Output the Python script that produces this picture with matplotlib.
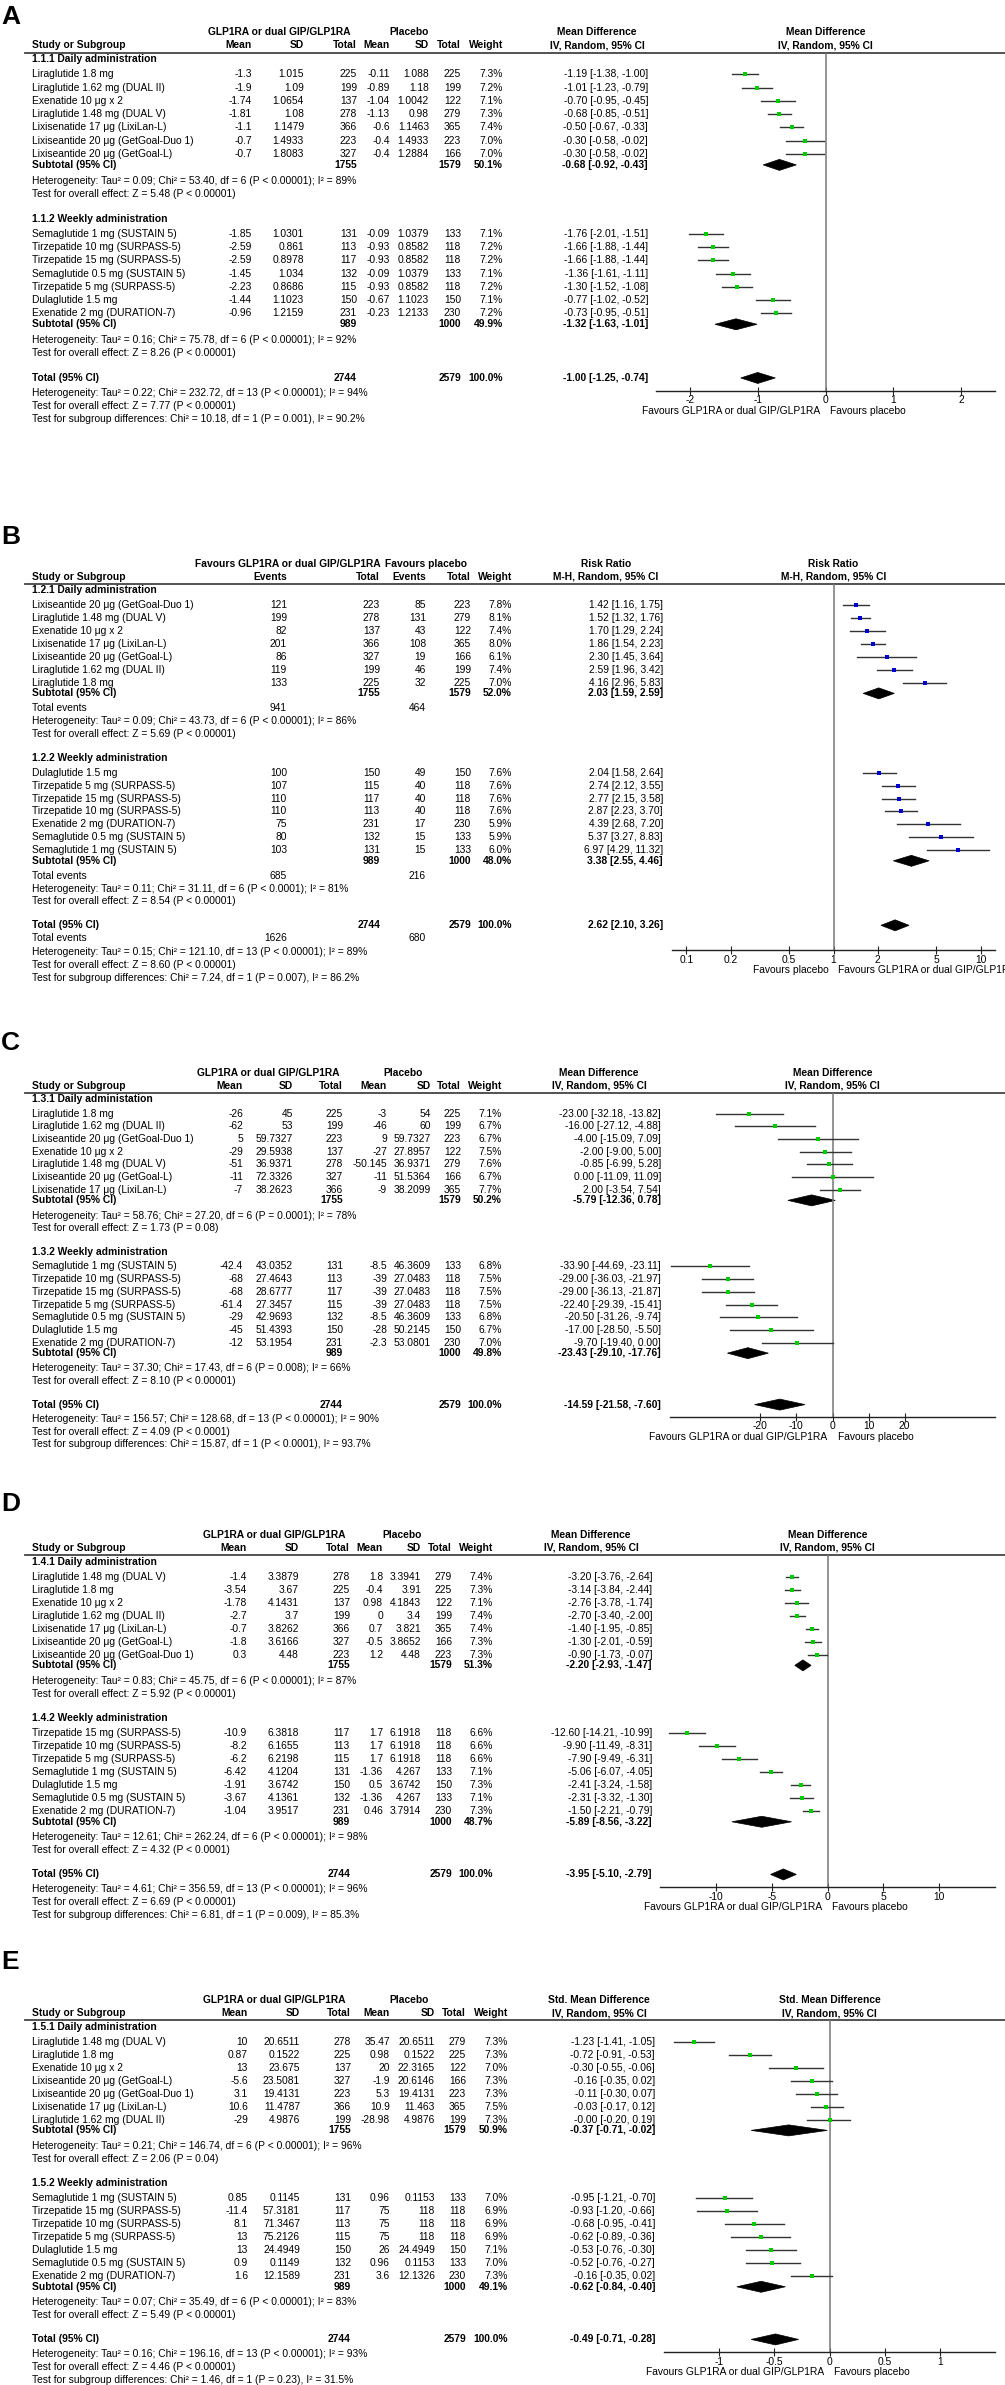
import numpy as np
import matplotlib
matplotlib.use("Agg")
import matplotlib.pyplot as plt
from matplotlib.patches import Polygon

plt.rcParams['font.family'] = ['Liberation Sans', 'DejaVu Sans']
plt.rcParams['axes.unicode_minus'] = False

W, H = 1005, 2385
FS = 7.4
GREEN = '#00cc00'
BLUE = '#0000cc'
LINE = '#333333'

# ---------------- A : mean difference ----------------
A_d_study = ["Liraglutide 1.8 mg", "Liraglutide 1.62 mg (DUAL II)", "Exenatide 10 μg x 2",
             "Liraglutide 1.48 mg (DUAL V)", "Lixisenatide 17 μg (LixiLan-L)",
             "Lixiseantide 20 μg (GetGoal-Duo 1)", "Lixiseantide 20 μg (GetGoal-L)"]
A_d_m1 = [-1.3, -1.9, -1.74, -1.81, -1.1, -0.7, -0.7]
A_d_sd1 = [1.015, 1.09, 1.0654, 1.08, 1.1479, 1.4933, 1.8083]
A_d_n1 = [225, 199, 137, 278, 366, 223, 327]
A_d_m2 = [-0.11, -0.89, -1.04, -1.13, -0.6, -0.4, -0.4]
A_d_sd2 = [1.088, 1.18, 1.0042, 0.98, 1.1463, 1.4933, 1.2884]
A_d_n2 = [225, 199, 122, 279, 365, 223, 166]
A_d_w = [7.3, 7.2, 7.1, 7.3, 7.4, 7.0, 7.0]
A_d_est = [-1.19, -1.01, -0.70, -0.68, -0.50, -0.30, -0.30]
A_d_lo = [-1.38, -1.23, -0.95, -0.85, -0.67, -0.58, -0.58]
A_d_hi = [-1.00, -0.79, -0.45, -0.51, -0.33, -0.02, -0.02]

A_w_study = ["Semaglutide 1 mg (SUSTAIN 5)", "Tirzepatide 10 mg (SURPASS-5)", "Tirzepatide 15 mg (SURPASS-5)",
             "Semaglutide 0.5 mg (SUSTAIN 5)", "Tirzepatide 5 mg (SURPASS-5)", "Dulaglutide 1.5 mg",
             "Exenatide 2 mg (DURATION-7)"]
A_w_m1 = [-1.85, -2.59, -2.59, -1.45, -2.23, -1.44, -0.96]
A_w_sd1 = [1.0301, 0.861, 0.8978, 1.034, 0.8686, 1.1023, 1.2159]
A_w_n1 = [131, 113, 117, 132, 115, 150, 231]
A_w_m2 = [-0.09, -0.93, -0.93, -0.09, -0.93, -0.67, -0.23]
A_w_sd2 = [1.0379, 0.8582, 0.8582, 1.0379, 0.8582, 1.1023, 1.2133]
A_w_n2 = [133, 118, 118, 133, 118, 150, 230]
A_w_w = [7.1, 7.2, 7.2, 7.1, 7.2, 7.1, 7.2]
A_w_est = [-1.76, -1.66, -1.66, -1.36, -1.30, -0.77, -0.73]
A_w_lo = [-2.01, -1.88, -1.88, -1.61, -1.52, -1.02, -0.95]
A_w_hi = [-1.51, -1.44, -1.44, -1.11, -1.08, -0.52, -0.51]

A_sub = [[1755, 1579, 50.1, -0.68, -0.92, -0.43], [989, 1000, 49.9, -1.32, -1.63, -1.01]]
A_tot = [2744, 2579, 100.0, -1.00, -1.25, -0.74]
A_het = ["Heterogeneity: Tau² = 0.09; Chi² = 53.40, df = 6 (P < 0.00001); I² = 89%",
         "Heterogeneity: Tau² = 0.16; Chi² = 75.78, df = 6 (P < 0.00001); I² = 92%",
         "Heterogeneity: Tau² = 0.22; Chi² = 232.72, df = 13 (P < 0.00001); I² = 94%"]
A_z = ["Test for overall effect: Z = 5.48 (P < 0.00001)",
       "Test for overall effect: Z = 8.26 (P < 0.00001)",
       "Test for overall effect: Z = 7.77 (P < 0.00001)"]
A_sg = "Test for subgroup differences: Chi² = 10.18, df = 1 (P = 0.001), I² = 90.2%"

# ---------------- B : risk ratio ----------------
B_d_study = ["Lixiseantide 20 μg (GetGoal-Duo 1)", "Liraglutide 1.48 mg (DUAL V)", "Exenatide 10 μg x 2",
             "Lixisenatide 17 μg (LixiLan-L)", "Lixiseantide 20 μg (GetGoal-L)",
             "Liraglutide 1.62 mg (DUAL II)", "Liraglutide 1.8 mg"]
B_d_ev1 = [121, 199, 82, 201, 86, 119, 133]
B_d_n1 = [223, 278, 137, 366, 327, 199, 225]
B_d_ev2 = [85, 131, 43, 108, 19, 46, 32]
B_d_n2 = [223, 279, 122, 365, 166, 199, 225]
B_d_w = [7.8, 8.1, 7.4, 8.0, 6.1, 7.4, 7.0]
B_d_est = [1.42, 1.52, 1.70, 1.86, 2.30, 2.59, 4.16]
B_d_lo = [1.16, 1.32, 1.29, 1.54, 1.45, 1.96, 2.96]
B_d_hi = [1.75, 1.76, 2.24, 2.23, 3.64, 3.42, 5.83]

B_w_study = ["Dulaglutide 1.5 mg", "Tirzepatide 5 mg (SURPASS-5)", "Tirzepatide 15 mg (SURPASS-5)",
             "Tirzepatide 10 mg (SURPASS-5)", "Exenatide 2 mg (DURATION-7)",
             "Semaglutide 0.5 mg (SUSTAIN 5)", "Semaglutide 1 mg (SUSTAIN 5)"]
B_w_ev1 = [100, 107, 110, 110, 75, 80, 103]
B_w_n1 = [150, 115, 117, 113, 231, 132, 131]
B_w_ev2 = [49, 40, 40, 40, 17, 15, 15]
B_w_n2 = [150, 118, 118, 118, 230, 133, 133]
B_w_w = [7.6, 7.6, 7.6, 7.6, 5.9, 5.9, 6.0]
B_w_est = [2.04, 2.74, 2.77, 2.87, 4.39, 5.37, 6.97]
B_w_lo = [1.58, 2.12, 2.15, 2.23, 2.68, 3.27, 4.29]
B_w_hi = [2.64, 3.55, 3.58, 3.70, 7.20, 8.83, 11.32]

B_sub = [[1755, 1579, 52.0, 2.03, 1.59, 2.59], [989, 1000, 48.0, 3.38, 2.55, 4.46]]
B_tot = [2744, 2579, 100.0, 2.62, 2.10, 3.26]
B_events = [[941, 464], [685, 216], [1626, 680]]
B_het = ["Heterogeneity: Tau² = 0.09; Chi² = 43.73, df = 6 (P < 0.00001); I² = 86%",
         "Heterogeneity: Tau² = 0.11; Chi² = 31.11, df = 6 (P < 0.0001); I² = 81%",
         "Heterogeneity: Tau² = 0.15; Chi² = 121.10, df = 13 (P < 0.00001); I² = 89%"]
B_z = ["Test for overall effect: Z = 5.69 (P < 0.00001)",
       "Test for overall effect: Z = 8.54 (P < 0.00001)",
       "Test for overall effect: Z = 8.60 (P < 0.00001)"]
B_sg = "Test for subgroup differences: Chi² = 7.24, df = 1 (P = 0.007), I² = 86.2%"

# ---------------- C ----------------
C_d_study = ["Liraglutide 1.8 mg", "Liraglutide 1.62 mg (DUAL II)", "Lixiseantide 20 μg (GetGoal-Duo 1)",
             "Exenatide 10 μg x 2", "Liraglutide 1.48 mg (DUAL V)", "Lixiseantide 20 μg (GetGoal-L)",
             "Lixisenatide 17 μg (LixiLan-L)"]
C_d_m1 = [-26, -62, 5, -29, -51, -11, -7]
C_d_sd1 = [45, 53, 59.7327, 29.5938, 36.9371, 72.3326, 38.2623]
C_d_n1 = [225, 199, 223, 137, 278, 327, 366]
C_d_m2 = [-3, -46, 9, -27, -50.145, -11, -9]
C_d_sd2 = [54, 60, 59.7327, 27.8957, 36.9371, 51.5364, 38.2099]
C_d_n2 = [225, 199, 223, 122, 279, 166, 365]
C_d_w = [7.1, 6.7, 6.7, 7.5, 7.6, 6.7, 7.7]
C_d_est = [-23.00, -16.00, -4.00, -2.00, -0.85, 0.00, 2.00]
C_d_lo = [-32.18, -27.12, -15.09, -9.00, -6.99, -11.09, -3.54]
C_d_hi = [-13.82, -4.88, 7.09, 5.00, 5.28, 11.09, 7.54]

C_w_study = ["Semaglutide 1 mg (SUSTAIN 5)", "Tirzepatide 10 mg (SURPASS-5)", "Tirzepatide 15 mg (SURPASS-5)",
             "Tirzepatide 5 mg (SURPASS-5)", "Semaglutide 0.5 mg (SUSTAIN 5)", "Dulaglutide 1.5 mg",
             "Exenatide 2 mg (DURATION-7)"]
C_w_m1 = [-42.4, -68, -68, -61.4, -29, -45, -12]
C_w_sd1 = [43.0352, 27.4643, 28.6777, 27.3457, 42.9693, 51.4393, 53.1954]
C_w_n1 = [131, 113, 117, 115, 132, 150, 231]
C_w_m2 = [-8.5, -39, -39, -39, -8.5, -28, -2.3]
C_w_sd2 = [46.3609, 27.0483, 27.0483, 27.0483, 46.3609, 50.2145, 53.0801]
C_w_n2 = [133, 118, 118, 118, 133, 150, 230]
C_w_w = [6.8, 7.5, 7.5, 7.5, 6.8, 6.7, 7.0]
C_w_est = [-33.90, -29.00, -29.00, -22.40, -20.50, -17.00, -9.70]
C_w_lo = [-44.69, -36.03, -36.13, -29.39, -31.26, -28.50, -19.40]
C_w_hi = [-23.11, -21.97, -21.87, -15.41, -9.74, -5.50, 0.00]

C_sub = [[1755, 1579, 50.2, -5.79, -12.36, 0.78], [989, 1000, 49.8, -23.43, -29.10, -17.76]]
C_tot = [2744, 2579, 100.0, -14.59, -21.58, -7.60]
C_het = ["Heterogeneity: Tau² = 58.76; Chi² = 27.20, df = 6 (P = 0.0001); I² = 78%",
         "Heterogeneity: Tau² = 37.30; Chi² = 17.43, df = 6 (P = 0.008); I² = 66%",
         "Heterogeneity: Tau² = 156.57; Chi² = 128.68, df = 13 (P < 0.00001); I² = 90%"]
C_z = ["Test for overall effect: Z = 1.73 (P = 0.08)",
       "Test for overall effect: Z = 8.10 (P < 0.00001)",
       "Test for overall effect: Z = 4.09 (P < 0.0001)"]
C_sg = "Test for subgroup differences: Chi² = 15.87, df = 1 (P < 0.0001), I² = 93.7%"

# ---------------- D ----------------
D_d_study = ["Liraglutide 1.48 mg (DUAL V)", "Liraglutide 1.8 mg", "Exenatide 10 μg x 2",
             "Liraglutide 1.62 mg (DUAL II)", "Lixisenatide 17 μg (LixiLan-L)",
             "Lixiseantide 20 μg (GetGoal-L)", "Lixiseantide 20 μg (GetGoal-Duo 1)"]
D_d_m1 = [-1.4, -3.54, -1.78, -2.7, -0.7, -1.8, 0.3]
D_d_sd1 = [3.3879, 3.67, 4.1431, 3.7, 3.8262, 3.6166, 4.48]
D_d_n1 = [278, 225, 137, 199, 366, 327, 223]
D_d_m2 = [1.8, -0.4, 0.98, 0, 0.7, -0.5, 1.2]
D_d_sd2 = [3.3941, 3.91, 4.1843, 3.4, 3.821, 3.8652, 4.48]
D_d_n2 = [279, 225, 122, 199, 365, 166, 223]
D_d_w = [7.4, 7.3, 7.1, 7.4, 7.4, 7.3, 7.3]
D_d_est = [-3.20, -3.14, -2.76, -2.70, -1.40, -1.30, -0.90]
D_d_lo = [-3.76, -3.84, -3.78, -3.40, -1.95, -2.01, -1.73]
D_d_hi = [-2.64, -2.44, -1.74, -2.00, -0.85, -0.59, -0.07]

D_w_study = ["Tirzepatide 15 mg (SURPASS-5)", "Tirzepatide 10 mg (SURPASS-5)", "Tirzepatide 5 mg (SURPASS-5)",
             "Semaglutide 1 mg (SUSTAIN 5)", "Dulaglutide 1.5 mg", "Semaglutide 0.5 mg (SUSTAIN 5)",
             "Exenatide 2 mg (DURATION-7)"]
D_w_m1 = [-10.9, -8.2, -6.2, -6.42, -1.91, -3.67, -1.04]
D_w_sd1 = [6.3818, 6.1655, 6.2198, 4.1204, 3.6742, 4.1361, 3.9517]
D_w_n1 = [117, 113, 115, 131, 150, 132, 231]
D_w_m2 = [1.7, 1.7, 1.7, -1.36, 0.5, -1.36, 0.46]
D_w_sd2 = [6.1918, 6.1918, 6.1918, 4.267, 3.6742, 4.267, 3.7914]
D_w_n2 = [118, 118, 118, 133, 150, 133, 230]
D_w_w = [6.6, 6.6, 6.6, 7.1, 7.3, 7.1, 7.3]
D_w_est = [-12.60, -9.90, -7.90, -5.06, -2.41, -2.31, -1.50]
D_w_lo = [-14.21, -11.49, -9.49, -6.07, -3.24, -3.32, -2.21]
D_w_hi = [-10.99, -8.31, -6.31, -4.05, -1.58, -1.30, -0.79]

D_sub = [[1755, 1579, 51.3, -2.20, -2.93, -1.47], [989, 1000, 48.7, -5.89, -8.56, -3.22]]
D_tot = [2744, 2579, 100.0, -3.95, -5.10, -2.79]
D_het = ["Heterogeneity: Tau² = 0.83; Chi² = 45.75, df = 6 (P < 0.00001); I² = 87%",
         "Heterogeneity: Tau² = 12.61; Chi² = 262.24, df = 6 (P < 0.00001); I² = 98%",
         "Heterogeneity: Tau² = 4.61; Chi² = 356.59, df = 13 (P < 0.00001); I² = 96%"]
D_z = ["Test for overall effect: Z = 5.92 (P < 0.00001)",
       "Test for overall effect: Z = 4.32 (P < 0.0001)",
       "Test for overall effect: Z = 6.69 (P < 0.00001)"]
D_sg = "Test for subgroup differences: Chi² = 6.81, df = 1 (P = 0.009), I² = 85.3%"

# ---------------- E : std. mean difference ----------------
E_d_study = ["Liraglutide 1.48 mg (DUAL V)", "Liraglutide 1.8 mg", "Exenatide 10 μg x 2",
             "Lixiseantide 20 μg (GetGoal-L)", "Lixiseantide 20 μg (GetGoal-Duo 1)",
             "Lixisenatide 17 μg (LixiLan-L)", "Liraglutide 1.62 mg (DUAL II)"]
E_d_m1 = [10, 0.87, 13, -5.6, 3.1, 10.6, -29]
E_d_sd1 = [20.6511, 0.1522, 23.675, 23.5081, 19.4131, 11.4787, 4.9876]
E_d_n1 = [278, 225, 137, 327, 223, 366, 199]
E_d_m2 = [35.47, 0.98, 20, -1.9, 5.3, 10.9, -28.98]
E_d_sd2 = [20.6511, 0.1522, 22.3165, 20.6146, 19.4131, 11.463, 4.9876]
E_d_n2 = [279, 225, 122, 166, 223, 365, 199]
E_d_w = [7.3, 7.3, 7.0, 7.3, 7.3, 7.5, 7.3]
E_d_est = [-1.23, -0.72, -0.30, -0.16, -0.11, -0.03, -0.0]
E_d_lo = [-1.41, -0.91, -0.55, -0.35, -0.30, -0.17, -0.20]
E_d_hi = [-1.05, -0.53, -0.06, 0.02, 0.07, 0.12, 0.19]

E_w_study = ["Semaglutide 1 mg (SUSTAIN 5)", "Tirzepatide 15 mg (SURPASS-5)", "Tirzepatide 10 mg (SURPASS-5)",
             "Tirzepatide 5 mg (SURPASS-5)", "Dulaglutide 1.5 mg", "Semaglutide 0.5 mg (SUSTAIN 5)",
             "Exenatide 2 mg (DURATION-7)"]
E_w_m1 = [0.85, -11.4, 8.1, 13, 13, 0.9, 1.6]
E_w_sd1 = [0.1145, 57.3181, 71.3467, 75.2126, 24.4949, 0.1149, 12.1589]
E_w_n1 = [131, 117, 113, 115, 150, 132, 231]
E_w_m2 = [0.96, 75, 75, 75, 26, 0.96, 3.6]
E_w_sd2 = [0.1153, 118, 118, 118, 24.4949, 0.1153, 12.1326]
E_w_n2 = [133, 118, 118, 118, 150, 133, 230]
E_w_w = [7.0, 6.9, 6.9, 6.9, 7.1, 7.0, 7.3]
E_w_est = [-0.95, -0.93, -0.68, -0.62, -0.53, -0.52, -0.16]
E_w_lo = [-1.21, -1.20, -0.95, -0.89, -0.76, -0.76, -0.35]
E_w_hi = [-0.70, -0.66, -0.41, -0.36, -0.30, -0.27, 0.02]

E_sub = [[1755, 1579, 50.9, -0.37, -0.71, -0.02], [989, 1000, 49.1, -0.62, -0.84, -0.40]]
E_tot = [2744, 2579, 100.0, -0.49, -0.71, -0.28]
E_het = ["Heterogeneity: Tau² = 0.21; Chi² = 146.74, df = 6 (P < 0.00001); I² = 96%",
         "Heterogeneity: Tau² = 0.07; Chi² = 35.49, df = 6 (P < 0.00001); I² = 83%",
         "Heterogeneity: Tau² = 0.16; Chi² = 196.16, df = 13 (P < 0.00001); I² = 93%"]
E_z = ["Test for overall effect: Z = 2.06 (P = 0.04)",
       "Test for overall effect: Z = 5.49 (P < 0.00001)",
       "Test for overall effect: Z = 4.46 (P < 0.00001)"]
E_sg = "Test for subgroup differences: Chi² = 1.46, df = 1 (P = 0.23), I² = 31.5%"

FAV_GP = ("Favours GLP1RA or dual GIP/GLP1RA", "Favours placebo")
CONT_HDR = ["Mean", "SD", "Total", "Mean", "SD", "Total", "Weight"]
GRP_CONT = ("GLP1RA or dual GIP/GLP1RA", "Placebo")


fig = plt.figure(figsize=(W / 100, H / 100), dpi=100)
bg = fig.add_axes([0, 0, 1, 1])
bg.set_xlim(0, W)
bg.set_ylim(H, 0)
bg.axis('off')


def tx(x, y, s, ha='left', bold=False):
    bg.text(x, y, s, ha=ha, va='center', fontsize=FS, fontweight='bold' if bold else 'normal')


def fmt(v):
    return '{:g}'.format(v)


def ci(e, l, u):
    return '{:.2f} [{:.2f}, {:.2f}]'.format(e, l, u)


def diamond(ax, e, l, u, y):
    ax.add_patch(Polygon([[l, y], [e, y - 5.5], [u, y], [e, y + 5.5]], closed=True,
                         fc='black', ec='black', lw=0.5))


def draw_panel(lay, groups, sub, tot, het, zt, sg, events=None):
    t, h = lay['top'], lay['h']
    cx = lay['cols']
    x0, x1 = lay['px']
    a, b = lay['xlim']
    if lay['log']:
        f = (np.log10(lay['null']) - np.log10(a)) / (np.log10(b) - np.log10(a))
    else:
        f = (lay['null'] - a) / (b - a)
    zx = x0 + f * (x1 - x0)
    ti, ni = lay['tcol']

    bg.text(1, lay['label_y'], lay['label'], fontsize=19, fontweight='bold', ha='left', va='center')
    # header
    tx(lay['grp'][0], t, lay['grp_names'][0], 'center', True)
    tx(lay['grp'][1], t, lay['grp_names'][1], 'center', True)
    tx(lay['eff_hdr'], t, lay['eff_name'], 'center', True)
    tx(zx, t, lay['eff_name'], 'center', True)
    tx(32, t + h, "Study or Subgroup", bold=True)
    for j, s in enumerate(lay['hdr']):
        tx(cx[j], t + h, s, 'right', True)
    tx(lay['eff_hdr'], t + h, lay['method'], 'center', True)
    tx(zx, t + h, lay['method'], 'center', True)
    line_y = t + 1.55 * h
    bg.plot([25, W], [line_y, line_y], color='#444444', lw=1.3)

    rows = []  # (y, est, lo, hi, kind)
    y_test = None
    for k, g in enumerate(groups):
        y_title = t + 2.05 * h if k == 0 else y_test + 1.85 * h
        tx(32, y_title, g['title'], bold=True)
        y = y_title + 1.15 * h
        for i, name in enumerate(g['study']):
            tx(32, y, name)
            for j, col in enumerate(g['cols']):
                tx(cx[j], y, fmt(col[i]), 'right')
            tx(cx[-1], y, '{:.1f}%'.format(g['w'][i]), 'right')
            tx(lay['eff_x'], y, ci(g['est'][i], g['lo'][i], g['hi'][i]), 'right')
            rows.append((y, g['est'][i], g['lo'][i], g['hi'][i], 'study'))
            y += h
        y_sub = y - h + 0.83 * h
        s = sub[k]
        tx(32, y_sub, "Subtotal (95% CI)", bold=True)
        tx(cx[ti], y_sub, fmt(s[0]), 'right', True)
        tx(cx[ni], y_sub, fmt(s[1]), 'right', True)
        tx(cx[-1], y_sub, '{:.1f}%'.format(s[2]), 'right', True)
        tx(lay['eff_x'], y_sub, ci(s[3], s[4], s[5]), 'right', True)
        rows.append((y_sub, s[3], s[4], s[5], 'dia'))
        if events is not None:
            y_ev = y_sub + 1.15 * h
            tx(32, y_ev, "Total events")
            tx(cx[0], y_ev, fmt(events[k][0]), 'right')
            tx(cx[2], y_ev, fmt(events[k][1]), 'right')
            y_het = y_ev + h
        else:
            y_het = y_sub + 1.2 * h
        tx(32, y_het, het[k])
        y_test = y_het + h
        tx(32, y_test, zt[k])

    y_tot = y_test + 1.85 * h
    tx(32, y_tot, "Total (95% CI)", bold=True)
    tx(cx[ti], y_tot, fmt(tot[0]), 'right', True)
    tx(cx[ni], y_tot, fmt(tot[1]), 'right', True)
    tx(cx[-1], y_tot, '{:.1f}%'.format(tot[2]), 'right', True)
    tx(lay['eff_x'], y_tot, ci(tot[3], tot[4], tot[5]), 'right', True)
    rows.append((y_tot, tot[3], tot[4], tot[5], 'dia'))
    if events is not None:
        y_ev = y_tot + h
        tx(32, y_ev, "Total events")
        tx(cx[0], y_ev, fmt(events[2][0]), 'right')
        tx(cx[2], y_ev, fmt(events[2][1]), 'right')
        y_het = y_ev + 1.08 * h
        axis_y = y_ev + 0.95 * h
    else:
        y_het = y_tot + 1.13 * h
        axis_y = y_tot + h
    tx(32, y_het, het[2])
    tx(32, y_het + h, zt[2])
    tx(32, y_het + 2 * h, sg)

    # forest plot area
    ax = fig.add_axes([x0 / W, 1 - axis_y / H, (x1 - x0) / W, (axis_y - line_y) / H])
    ax.patch.set_visible(False)
    if lay['log']:
        ax.set_xscale('log')
    ax.set_xlim(a, b)
    ax.set_ylim(axis_y, line_y)
    ax.plot([lay['null'], lay['null']], [line_y, axis_y], color='#777777', lw=1.1)
    for (y, e, l, u, kind) in rows:
        if kind == 'study':
            ax.plot([l, u], [y, y], color=LINE, lw=1.0)
            ax.plot(e, y, 's', ms=2.4, color=lay['mk'], mew=0)
        else:
            diamond(ax, e, l, u, y)
    for sp in ['top', 'left', 'right']:
        ax.spines[sp].set_visible(False)
    ax.spines['bottom'].set_color('#222222')
    ax.spines['bottom'].set_linewidth(1.0)
    ax.set_yticks([])
    ax.minorticks_off()
    ax.set_xticks(lay['ticks'])
    ax.set_xticklabels([fmt(v) for v in lay['ticks']])
    ax.tick_params(axis='x', direction='inout', length=6, width=0.8, labelsize=FS, pad=0,
                   color='#222222')
    tx(zx - 5, axis_y + 20, lay['fav'][0], 'right')
    tx(zx + 5, axis_y + 20, lay['fav'][1], 'left')


def grp(title, study, cols, w, est, lo, hi):
    return dict(title=title, study=study, cols=cols, w=w, est=est, lo=lo, hi=hi)


lay_A = dict(label='A', label_y=17, top=32, h=13.25, cols=[252, 304, 357, 390, 429, 461, 503], tcol=(2, 5),
             hdr=CONT_HDR, eff_x=648, eff_hdr=597, px=(656, 995), xlim=(-2.5, 2.5), log=False, null=0,
             ticks=[-2, -1, 0, 1, 2], grp=(279, 409), grp_names=GRP_CONT, eff_name="Mean Difference",
             method="IV, Random, 95% CI", mk=GREEN, fav=FAV_GP)
lay_B = dict(label='B', label_y=537, top=564, h=12.9, cols=[287, 380, 426, 471, 512], tcol=(1, 3),
             hdr=["Events", "Total", "Events", "Total", "Weight"], eff_x=663, eff_hdr=606, px=(672, 995),
             xlim=(0.08, 12.5), log=True, null=1, ticks=[0.1, 0.2, 0.5, 1, 2, 5, 10], grp=(288, 426),
             grp_names=FAV_GP, eff_name="Risk Ratio", method="M-H, Random, 95% CI", mk=BLUE,
             fav=(FAV_GP[1], FAV_GP[0]))
lay_C = dict(label='C', label_y=1043, top=1073, h=12.7, cols=[243, 293, 343, 387, 431, 461, 502], tcol=(2, 5),
             hdr=CONT_HDR, eff_x=661, eff_hdr=599, px=(670, 995), xlim=(-45, 45), log=False, null=0,
             ticks=[-20, -10, 0, 10, 20], grp=(268, 403), grp_names=GRP_CONT, eff_name="Mean Difference",
             method="IV, Random, 95% CI", mk=GREEN, fav=FAV_GP)
lay_D = dict(label='D', label_y=1504, top=1535, h=13.0, cols=[247, 299, 350, 383, 421, 452, 493], tcol=(2, 5),
             hdr=CONT_HDR, eff_x=652, eff_hdr=591, px=(660, 995), xlim=(-15, 15), log=False, null=0,
             ticks=[-10, -5, 0, 5, 10], grp=(274, 402), grp_names=GRP_CONT, eff_name="Mean Difference",
             method="IV, Random, 95% CI", mk=GREEN, fav=FAV_GP)
lay_E = dict(label='E', label_y=1962, top=2000, h=13.0, cols=[248, 300, 351, 390, 435, 466, 508], tcol=(2, 5),
             hdr=CONT_HDR, eff_x=655, eff_hdr=599, px=(664, 995), xlim=(-1.5, 1.5), log=False, null=0,
             ticks=[-1, -0.5, 0, 0.5, 1], grp=(274, 409), grp_names=GRP_CONT, eff_name="Std. Mean Difference",
             method="IV, Random, 95% CI", mk=GREEN, fav=FAV_GP)

draw_panel(lay_A, [grp("1.1.1 Daily administration", A_d_study, [A_d_m1, A_d_sd1, A_d_n1, A_d_m2, A_d_sd2, A_d_n2],
                       A_d_w, A_d_est, A_d_lo, A_d_hi),
                   grp("1.1.2 Weekly administration", A_w_study, [A_w_m1, A_w_sd1, A_w_n1, A_w_m2, A_w_sd2, A_w_n2],
                       A_w_w, A_w_est, A_w_lo, A_w_hi)],
           A_sub, A_tot, A_het, A_z, A_sg)
draw_panel(lay_B, [grp("1.2.1 Daily administration", B_d_study, [B_d_ev1, B_d_n1, B_d_ev2, B_d_n2],
                       B_d_w, B_d_est, B_d_lo, B_d_hi),
                   grp("1.2.2 Weekly administration", B_w_study, [B_w_ev1, B_w_n1, B_w_ev2, B_w_n2],
                       B_w_w, B_w_est, B_w_lo, B_w_hi)],
           B_sub, B_tot, B_het, B_z, B_sg, events=B_events)
draw_panel(lay_C, [grp("1.3.1 Daily administation", C_d_study, [C_d_m1, C_d_sd1, C_d_n1, C_d_m2, C_d_sd2, C_d_n2],
                       C_d_w, C_d_est, C_d_lo, C_d_hi),
                   grp("1.3.2 Weekly administration", C_w_study, [C_w_m1, C_w_sd1, C_w_n1, C_w_m2, C_w_sd2, C_w_n2],
                       C_w_w, C_w_est, C_w_lo, C_w_hi)],
           C_sub, C_tot, C_het, C_z, C_sg)
draw_panel(lay_D, [grp("1.4.1 Daily administration", D_d_study, [D_d_m1, D_d_sd1, D_d_n1, D_d_m2, D_d_sd2, D_d_n2],
                       D_d_w, D_d_est, D_d_lo, D_d_hi),
                   grp("1.4.2 Weekly administration", D_w_study, [D_w_m1, D_w_sd1, D_w_n1, D_w_m2, D_w_sd2, D_w_n2],
                       D_w_w, D_w_est, D_w_lo, D_w_hi)],
           D_sub, D_tot, D_het, D_z, D_sg)
draw_panel(lay_E, [grp("1.5.1 Daily administration", E_d_study, [E_d_m1, E_d_sd1, E_d_n1, E_d_m2, E_d_sd2, E_d_n2],
                       E_d_w, E_d_est, E_d_lo, E_d_hi),
                   grp("1.5.2 Weekly administration", E_w_study, [E_w_m1, E_w_sd1, E_w_n1, E_w_m2, E_w_sd2, E_w_n2],
                       E_w_w, E_w_est, E_w_lo, E_w_hi)],
           E_sub, E_tot, E_het, E_z, E_sg)

fig.savefig("out.png", dpi=100, facecolor='white')
